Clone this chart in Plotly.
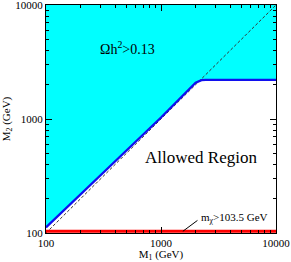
import plotly.graph_objects as go

# boundary of relic-density excluded region
bound_m1 = [100, 300, 1000, 2000, 2250, 2450, 10000]
bound_m2 = [112, 325, 1030, 2080, 2190, 2200, 2200]
diag = [100, 10000]
lep_m2 = 103.5
lep_m1 = [100, 10000]

font = "Liberation Serif"
fig = go.Figure()

fig.add_trace(go.Scatter(
    x=bound_m1 + [10000, 100], y=bound_m2 + [10000, 10000],
    fill="toself", fillcolor="#00FFFF", line=dict(width=0), mode="lines",
    showlegend=False, hoverinfo="skip"))
fig.add_trace(go.Scatter(x=diag, y=diag, mode="lines",
    line=dict(color="#333333", width=1, dash="3px,2px"), showlegend=False))
fig.add_trace(go.Scatter(x=bound_m1, y=bound_m2, mode="lines",
    line=dict(color="#1010EE", width=2.2), showlegend=False))
fig.add_trace(go.Scatter(x=lep_m1, y=[lep_m2, lep_m2], mode="lines",
    line=dict(color="#FF0000", width=3), showlegend=False))

fig.add_annotation(x=2.709, y=3.625, text="Ωh<sup>2</sup>&gt;0.13", showarrow=False,
    font=dict(family=font, size=14, color="black"))
fig.add_annotation(x=3.352, y=2.66, text="Allowed Region", showarrow=False,
    font=dict(family=font, size=17, color="black"))
fig.add_annotation(x=3.19, y=2.015, ax=3.33, ay=2.12, axref="x", ayref="y",
    text="", showarrow=True, arrowhead=0, arrowwidth=1, arrowcolor="black")
fig.add_annotation(x=3.33, y=2.13, text="m<sub>χ</sub>&gt;103.5 GeV", showarrow=False,
    xanchor="left", font=dict(family=font, size=11, color="black"))

minor_vals = [m * 10 ** e for e in (2, 3) for m in range(2, 10)]
axis_common = dict(type="log", range=[2, 4], showline=True, linecolor="black",
    linewidth=1, mirror="ticks", ticks="inside", ticklen=6, tickcolor="black",
    showgrid=False, zeroline=False, automargin=False, ticklabeloverflow="allow",
    tickvals=[100, 1000, 10000], ticktext=["100", "1000", "10000"],
    tickfont=dict(family=font, size=11, color="black"),
    minor=dict(ticks="inside", ticklen=3, tickcolor="black", tickvals=minor_vals,
               showgrid=False))
fig.update_xaxes(**axis_common, title=dict(text="M<sub>1</sub> (GeV)",
    font=dict(family=font, size=11, color="black"), standoff=2))
fig.update_yaxes(**axis_common, title=dict(text="M<sub>2</sub> (GeV)",
    font=dict(family=font, size=11, color="black"), standoff=4))

fig.update_layout(width=291, height=262, margin=dict(l=46, r=15, t=5, b=29),
    plot_bgcolor="white", paper_bgcolor="white", showlegend=False)
fig.write_html("out.html", config={"displayModeBar": False},
               post_script="document.body.style.margin='0';")
